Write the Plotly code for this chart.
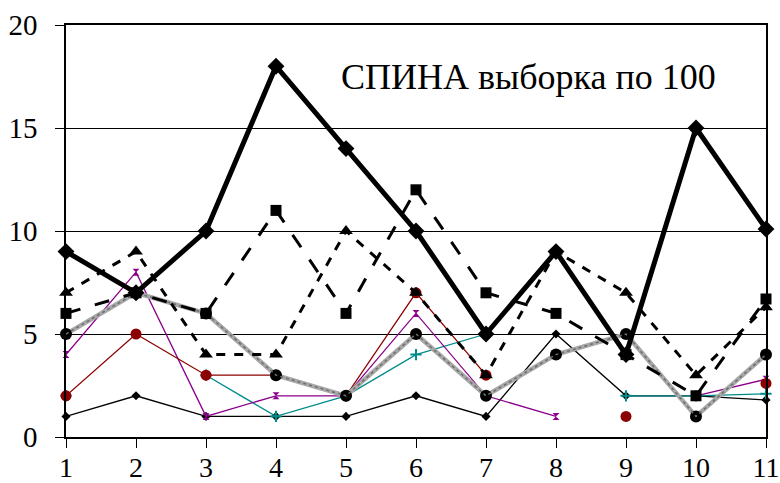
import plotly.graph_objects as go

x = list(range(1, 12))
s_main = [9, 7, 10, 18, 14, 10, 5, 9, 4, 15, 10.1]
s_square = [6, 7, 6, 11, 6, 12, 7, 6, 4, 2, 6.7]
s_triangle = [7, 9, 4, 4, 10, 7, 3, 9, 7, 3, 6.3]
s_gray = [5, 7, 6, 3, 2, 5, 2, 4, 5, 1, 4]
s_red = [2, 5, 3, 3, 2, 7, 3, None, 1, None, 2.6]
s_purple = [4, 8, 1, 2, 2, 6, 2, 1, None, 2, 2.8]
s_teal = [2, None, 3, 1, 2, 4, 5, None, 2, 2, 2.1]
s_small = [1, 2, 1, 1, 1, 2, 1, 5, 2, 2, 1.8]

SERIF = "Liberation Serif, Times New Roman, DejaVu Serif, serif"

fig = go.Figure()

def add(y, color, width, dash, symbol, msize, mcolor=None):
    fig.add_trace(go.Scatter(
        x=x, y=y, mode="lines+markers", cliponaxis=False,
        line=dict(color=color, width=width, dash=dash),
        marker=dict(symbol=symbol, size=msize, color=mcolor or color,
                    line=dict(width=0)),
        connectgaps=False, showlegend=False))

add(s_small, "black", 1.3, "solid", "diamond", 7)
add(s_teal, "#008b8b", 1.3, "solid", "cross-thin", 8)
fig.data[-1].marker.line = dict(width=2, color="#008b8b")
add(s_purple, "#8b008b", 1.3, "solid", "hourglass", 7)
add(s_red, "#8b0000", 1.3, "solid", "circle", 11)
add(s_gray, "#a8a8a8", 4.5, "solid", "circle", 12, "black")
fig.add_trace(go.Scatter(x=x, y=s_gray, mode="lines", cliponaxis=False,
                         line=dict(color="#6e6e6e", width=1.5, dash="dot"),
                         showlegend=False, hoverinfo="skip"))
add(s_triangle, "black", 3, "dash", "triangle-up", 12)
add(s_square, "black", 3, "longdash", "square", 11)
add(s_main, "black", 5, "solid", "diamond", 13)

fig.add_annotation(x=(718 - 66) / 700, y=17.5, xref="paper", yref="y",
                   text="СПИНА выборка по 100",
                   showarrow=False, xanchor="right", yanchor="middle",
                   font=dict(family=SERIF, size=36, color="black"))

fig.update_layout(
    width=780, height=483,
    margin=dict(l=66, r=14, t=25, b=46, autoexpand=False),
    plot_bgcolor="white", paper_bgcolor="white",
    font=dict(family=SERIF, size=29, color="black"),
)
fig.update_xaxes(range=[1, 11], tickvals=x, ticks="outside", ticklen=9, tickcolor="black",
                 showline=True, linecolor="black", linewidth=1.5, mirror=True,
                 showgrid=False, zeroline=False, automargin=False,
                 ticklabelstandoff=-4,
                 tickfont=dict(family=SERIF, size=28))
fig.update_yaxes(range=[0, 20], tickvals=[0, 5, 10, 15, 20], ticks="outside", ticklen=9,
                 tickcolor="black", showline=True, linecolor="black", linewidth=1.5,
                 mirror=True, showgrid=True, gridcolor="black", gridwidth=1,
                 zeroline=False, automargin=False, ticklabelstandoff=12,
                 tickfont=dict(family=SERIF, size=29))

fig.write_html("out.html", config={"displayModeBar": False},
               post_script="document.body.style.margin='0';document.body.style.overflow='hidden';")
